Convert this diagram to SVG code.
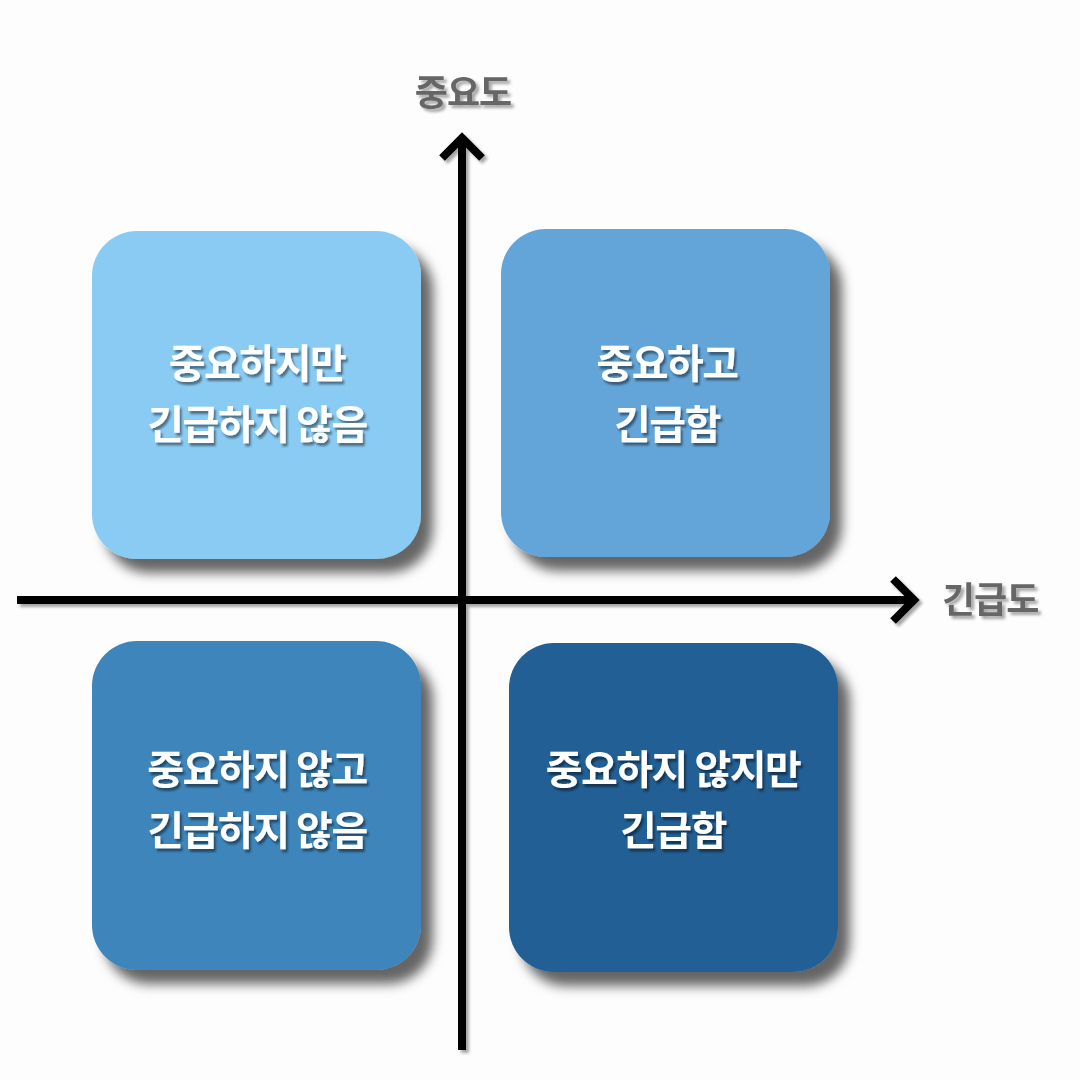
<svg xmlns="http://www.w3.org/2000/svg" width="1080" height="1080" viewBox="0 0 1080 1080">
<defs>
<filter id="bs" x="-20%" y="-20%" width="150%" height="150%">
<feGaussianBlur in="SourceAlpha" stdDeviation="6"/>
<feOffset dx="12" dy="14" result="b"/>
<feFlood flood-color="#000" flood-opacity="0.6"/>
<feComposite in2="b" operator="in"/>
<feMerge><feMergeNode/><feMergeNode in="SourceGraphic"/></feMerge>
</filter>
<filter id="ts" x="-10%" y="-20%" width="130%" height="150%">
<feGaussianBlur in="SourceAlpha" stdDeviation="1.2"/>
<feOffset dx="2" dy="3" result="b"/>
<feFlood flood-color="#000" flood-opacity="0.45"/>
<feComposite in2="b" operator="in"/>
<feMerge><feMergeNode/><feMergeNode in="SourceGraphic"/></feMerge>
</filter>
<filter id="ls" x="-20%" y="-20%" width="150%" height="150%">
<feGaussianBlur in="SourceAlpha" stdDeviation="1.5"/>
<feOffset dx="3" dy="3" result="b"/>
<feFlood flood-color="#000" flood-opacity="0.35"/>
<feComposite in2="b" operator="in"/>
<feMerge><feMergeNode/><feMergeNode in="SourceGraphic"/></feMerge>
</filter>
</defs>
<style>
.box{filter:url(#bs);}
.t{font-family:"Noto Sans CJK KR","Noto Sans",sans-serif;font-weight:700;font-size:40px;fill:#fff;text-anchor:middle;filter:url(#ts);letter-spacing:-1.5px;}
.ax{font-family:"Noto Sans CJK KR","Noto Sans",sans-serif;font-weight:700;font-size:36px;fill:#666;filter:url(#ls);letter-spacing:-1px;}
.axis{stroke:#000;stroke-width:8;fill:none;stroke-linecap:butt;}
</style>
<rect width="1080" height="1080" fill="#fdfdfd"/>
<g id="connectors" filter="url(#ls)">
<line class="axis" x1="462" y1="140" x2="462" y2="1050"/>
<polyline class="axis" points="442,158 462,138 482,158"/>
<line class="axis" x1="17" y1="600" x2="914" y2="600"/>
<polyline class="axis" points="893,579 914,600 893,621"/>
</g>
<g id="q-tl">
<rect class="box" x="92" y="231" width="329" height="328" rx="45" fill="#8ACBF3"/>
<text class="t" x="257" y="378">중요하지만</text>
<text class="t" x="257" y="439">긴급하지 않음</text>
</g>
<g id="q-tr">
<rect class="box" x="501" y="229" width="329" height="328" rx="45" fill="#63A5D8"/>
<text class="t" x="667" y="378">중요하고</text>
<text class="t" x="667" y="439">긴급함</text>
</g>
<g id="q-bl">
<rect class="box" x="92" y="641" width="329" height="329" rx="45" fill="#3E85BA"/>
<text class="t" x="257" y="784">중요하지 않고</text>
<text class="t" x="257" y="845">긴급하지 않음</text>
</g>
<g id="q-br">
<rect class="box" x="509" y="643" width="329" height="329" rx="45" fill="#215E94"/>
<text class="t" x="673" y="784">중요하지 않지만</text>
<text class="t" x="673" y="845">긴급함</text>
</g>
<g id="label-y"><text class="ax" x="463" y="106" text-anchor="middle">중요도</text></g>
<g id="label-x"><text class="ax" x="942" y="613">긴급도</text></g>
</svg>
